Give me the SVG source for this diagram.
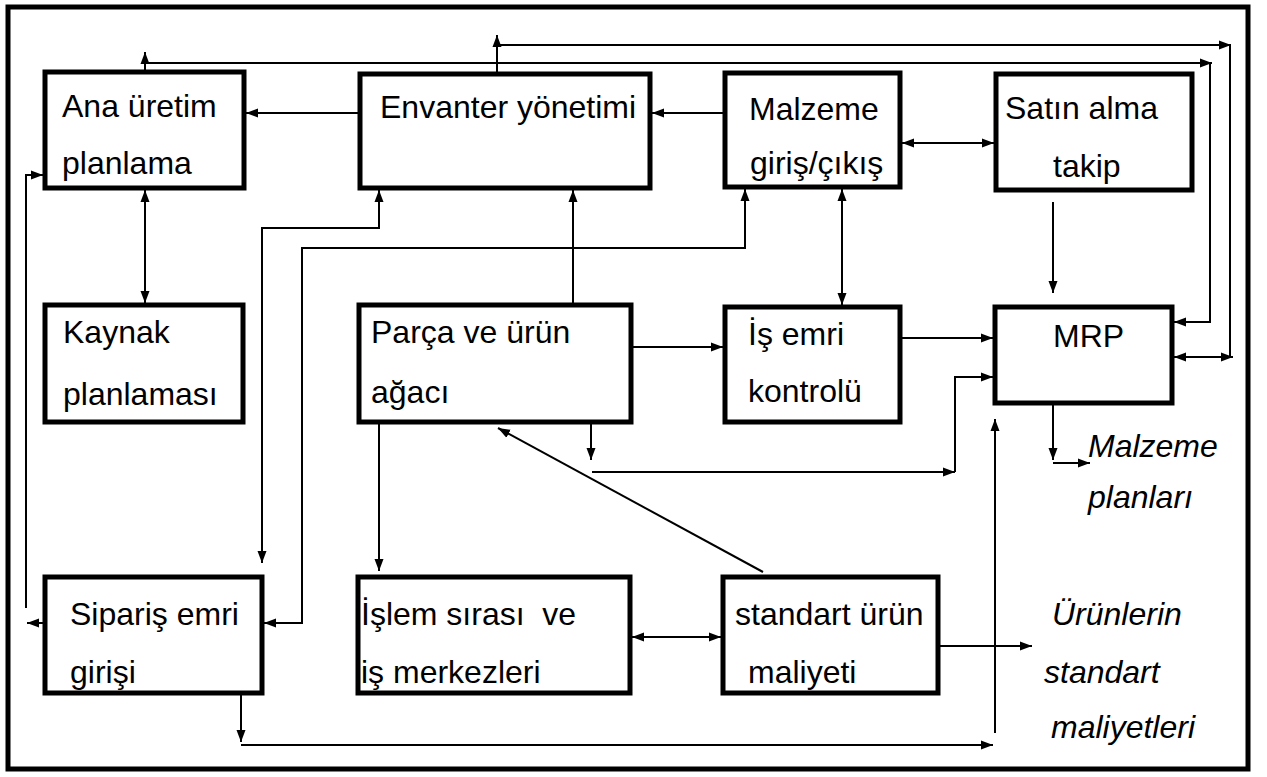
<svg xmlns="http://www.w3.org/2000/svg" width="1267" height="777" viewBox="0 0 1267 777">
<style>
.box{fill:#fff;stroke:#000;stroke-width:5}
.t{font-family:"Liberation Sans",Arial,sans-serif;font-size:32px;fill:#000}
.i{font-style:italic}
.c{fill:none;stroke:#000;stroke-width:2}
</style>
<defs>
<marker id="a" viewBox="0 0 12 10" refX="12" refY="5" markerWidth="12" markerHeight="10" markerUnits="userSpaceOnUse" orient="auto-start-reverse">
<path d="M0,0.5 L12,5 L0,9.5 z" fill="#000"/>
</marker>
</defs>
<rect x="0" y="0" width="1267" height="777" fill="#fff"/>
<rect x="8" y="7" width="1240" height="762" fill="none" stroke="#000" stroke-width="5"/>

<g id="connectors">
<path class="c" d="M360,113 H246" marker-end="url(#a)"/>
<path class="c" d="M725,113 H652" marker-end="url(#a)"/>
<path class="c" d="M902,143 H994" marker-start="url(#a)" marker-end="url(#a)"/>
<path class="c" d="M497,74 V45 H1230 V357 H1174" marker-end="url(#a)"/>
<path class="c" d="M497,47 V35" marker-end="url(#a)"/>
<path class="c" d="M1218,45 H1231" marker-end="url(#a)"/>
<path class="c" d="M1222,357 H1233" marker-end="url(#a)"/>
<path class="c" d="M145,72 V63 H1210 V322 H1174" marker-end="url(#a)"/>
<path class="c" d="M145,64 V52" marker-end="url(#a)"/>
<path class="c" d="M1200,63 H1212" marker-end="url(#a)"/>
<path class="c" d="M145,190 V303" marker-start="url(#a)" marker-end="url(#a)"/>
<path class="c" d="M45,623 H27" marker-end="url(#a)"/>
<path class="c" d="M26,608 V175 H43" marker-end="url(#a)"/>
<path class="c" d="M379,190 V228 H262 V563" marker-start="url(#a)" marker-end="url(#a)"/>
<path class="c" d="M745,189 V248 H302 V623 H264" marker-start="url(#a)" marker-end="url(#a)"/>
<path class="c" d="M573,305 V190" marker-end="url(#a)"/>
<path class="c" d="M842,189 V305" marker-start="url(#a)" marker-end="url(#a)"/>
<path class="c" d="M1053,202 V293" marker-end="url(#a)"/>
<path class="c" d="M631,347 H723" marker-end="url(#a)"/>
<path class="c" d="M900,338 H993" marker-end="url(#a)"/>
<path class="c" d="M591,422 V460" marker-end="url(#a)"/>
<path class="c" d="M592,472 H955" marker-end="url(#a)"/>
<path class="c" d="M955,472 V377 H993" marker-end="url(#a)"/>
<path class="c" d="M379,422 V571" marker-end="url(#a)"/>
<path class="c" d="M763,572 L498,428" marker-end="url(#a)"/>
<path class="c" d="M632,637 H721" marker-start="url(#a)" marker-end="url(#a)"/>
<path class="c" d="M938,646 H1032" marker-end="url(#a)"/>
<path class="c" d="M241,693 V742" marker-end="url(#a)"/>
<path class="c" d="M241,745 H993" marker-end="url(#a)"/>
<path class="c" d="M995,733 V419" marker-end="url(#a)"/>
<path class="c" d="M1053,403 V460" marker-end="url(#a)"/>
<path class="c" d="M1053,463 H1090" marker-end="url(#a)"/>
</g>

<g id="ana-uretim">
<rect class="box" x="45" y="72" width="199" height="116"/>
<text class="t" x="62" y="117">Ana üretim</text>
<text class="t" x="62" y="174">planlama</text>
</g>
<g id="envanter">
<rect class="box" x="360" y="74" width="290" height="114"/>
<text class="t" x="380" y="118">Envanter yönetimi</text>
</g>
<g id="malzeme">
<rect class="box" x="725" y="73" width="175" height="114"/>
<text class="t" x="749" y="120">Malzeme</text>
<text class="t" x="750" y="174">giriş/çıkış</text>
</g>
<g id="satin-alma">
<rect class="box" x="996" y="74" width="196" height="116"/>
<text class="t" x="1005" y="119">Satın alma</text>
<text class="t" x="1053" y="177">takip</text>
</g>
<g id="kaynak">
<rect class="box" x="45" y="305" width="198" height="117"/>
<text class="t" x="63" y="343">Kaynak</text>
<text class="t" x="63" y="405">planlaması</text>
</g>
<g id="parca">
<rect class="box" x="359" y="305" width="272" height="117"/>
<text class="t" x="371" y="343">Parça ve ürün</text>
<text class="t" x="371" y="403">ağacı</text>
</g>
<g id="is-emri">
<rect class="box" x="725" y="307" width="175" height="115"/>
<text class="t" x="748" y="345">İş emri</text>
<text class="t" x="748" y="402">kontrolü</text>
</g>
<g id="mrp">
<rect class="box" x="995" y="307" width="177" height="96"/>
<text class="t" x="1053" y="347">MRP</text>
</g>
<g id="siparis">
<rect class="box" x="45" y="577" width="217" height="116"/>
<text class="t" x="70" y="625">Sipariş emri</text>
<text class="t" x="70" y="683">girişi</text>
</g>
<g id="islem">
<rect class="box" x="358" y="577" width="272" height="116"/>
<text class="t" x="361" y="625" xml:space="preserve">İşlem sırası  ve</text>
<text class="t" x="361" y="683">iş merkezleri</text>
</g>
<g id="standart">
<rect class="box" x="723" y="577" width="215" height="116"/>
<text class="t" x="735" y="625">standart ürün</text>
<text class="t" x="748" y="683">maliyeti</text>
</g>
<g id="malzeme-planlari">
<text class="t i" x="1088" y="457">Malzeme</text>
<text class="t i" x="1088" y="508">planları</text>
</g>
<g id="urunlerin">
<text class="t i" x="1052" y="625">Ürünlerin</text>
<text class="t i" x="1044" y="683">standart</text>
<text class="t i" x="1051" y="738">maliyetleri</text>
</g>
</svg>
